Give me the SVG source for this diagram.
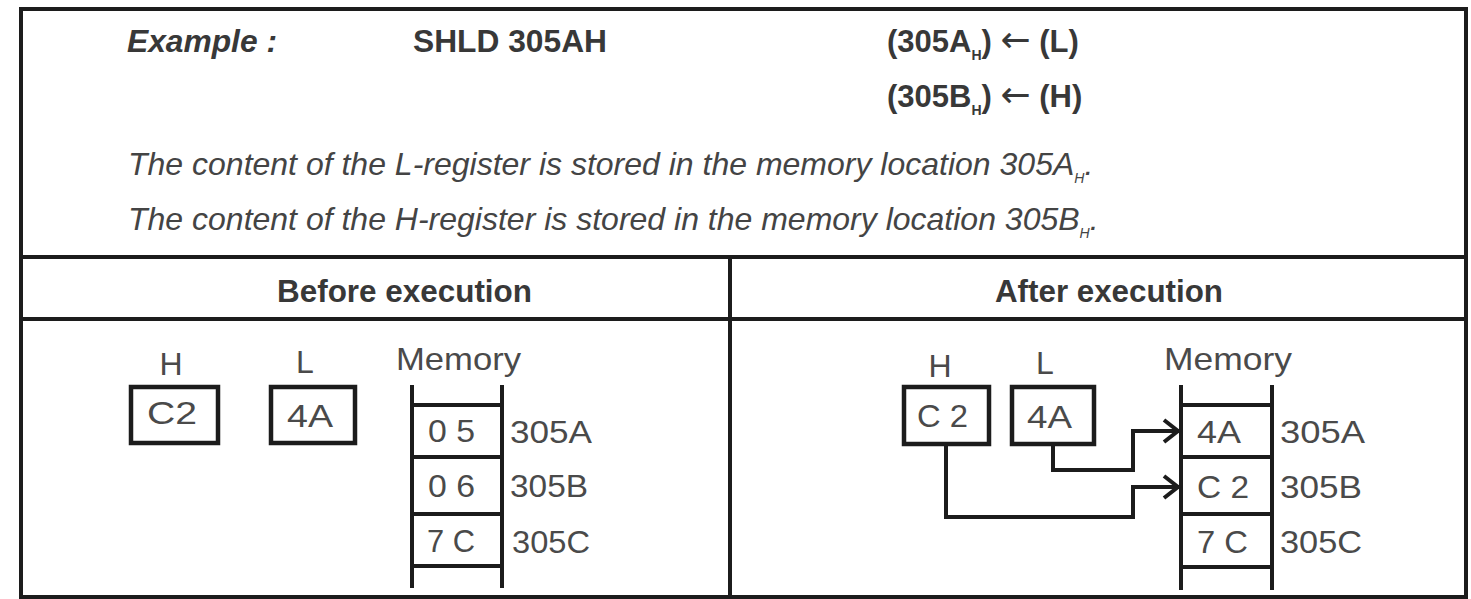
<svg xmlns="http://www.w3.org/2000/svg" width="1471" height="599" viewBox="0 0 1471 599">
<style>
text{font-family:"Liberation Sans",Arial,sans-serif;fill:#383838}
.b{font-weight:bold;font-size:31px}
.bi{font-weight:bold;font-style:italic;font-size:31px}
.it{font-style:italic;font-size:32px;fill:#444}
.r{font-size:32px;fill:#4a4a4a}
.sub{font-size:14px}
.arw{font-family:"DejaVu Sans",sans-serif;font-weight:normal;font-size:36px}
.ln{stroke:#1c1c1c;stroke-width:4;fill:none}
.box{stroke:#1c1c1c;stroke-width:4.5;fill:none}
.conn{stroke:#1c1c1c;stroke-width:4;fill:none;marker-end:url(#arr)}
</style>
<defs>
<marker id="arr" markerUnits="userSpaceOnUse" markerWidth="24" markerHeight="30" refX="18" refY="13" orient="auto">
<path d="M3,2 L17,13 L3,24" fill="none" stroke="#1c1c1c" stroke-width="4"/>
</marker>
</defs>
<rect x="0" y="0" width="1471" height="599" fill="#fff"/>
<g id="frame">
<rect class="ln" x="21" y="9" width="1445" height="588"/>
<line class="ln" x1="21" y1="257" x2="1466" y2="257"/>
<line class="ln" x1="21" y1="319" x2="1466" y2="319"/>
<line class="ln" x1="730" y1="257" x2="730" y2="597"/>
</g>
<g id="header">
<text class="bi" x="127" y="52" textLength="150" lengthAdjust="spacingAndGlyphs">Example :</text>
<text class="b" x="413" y="52" textLength="194" lengthAdjust="spacingAndGlyphs">SHLD 305AH</text>
<text class="b" x="887" y="52">(305A<tspan class="sub" dy="8">H</tspan><tspan dy="-8">) </tspan><tspan class="arw">←</tspan> (L)</text>
<text class="b" x="887" y="107">(305B<tspan class="sub" dy="8">H</tspan><tspan dy="-8">) </tspan><tspan class="arw">←</tspan> (H)</text>
<text class="it" x="128" y="175">The content of the L-register is stored in the memory location 305A<tspan class="sub" dy="8">H</tspan><tspan dy="-8">.</tspan></text>
<text class="it" x="128" y="230">The content of the H-register is stored in the memory location 305B<tspan class="sub" dy="8">H</tspan><tspan dy="-8">.</tspan></text>
<text class="b" x="277" y="302" textLength="255" lengthAdjust="spacingAndGlyphs">Before execution</text>
<text class="b" x="995" y="302" textLength="228" lengthAdjust="spacingAndGlyphs">After execution</text>
</g>
<g id="before-H">
<text class="r" x="171" y="375" text-anchor="middle">H</text>
<rect class="box" x="131" y="387" width="87" height="56"/>
<text class="r" x="147" y="424" textLength="50" lengthAdjust="spacingAndGlyphs">C2</text>
</g>
<g id="before-L">
<text class="r" x="305" y="373" text-anchor="middle">L</text>
<rect class="box" x="271" y="387" width="84" height="56"/>
<text class="r" x="287" y="427" textLength="46" lengthAdjust="spacingAndGlyphs">4A</text>
</g>
<g id="before-memory">
<text class="r" x="396" y="370" textLength="125" lengthAdjust="spacingAndGlyphs">Memory</text>
<line class="ln" x1="412" y1="385" x2="412" y2="588"/>
<line class="ln" x1="502" y1="385" x2="502" y2="588"/>
<line class="ln" x1="412" y1="405" x2="502" y2="405"/>
<line class="ln" x1="412" y1="457" x2="502" y2="457"/>
<line class="ln" x1="412" y1="514" x2="502" y2="514"/>
<line class="ln" x1="412" y1="566" x2="502" y2="566"/>
<text class="r" x="428" y="442" textLength="47" lengthAdjust="spacingAndGlyphs">0 5</text>
<text class="r" x="428" y="497" textLength="47" lengthAdjust="spacingAndGlyphs">0 6</text>
<text class="r" x="427" y="552" textLength="48" lengthAdjust="spacingAndGlyphs">7 C</text>
<text class="r" x="510" y="443" textLength="82" lengthAdjust="spacingAndGlyphs">305A</text>
<text class="r" x="510" y="497" textLength="78" lengthAdjust="spacingAndGlyphs">305B</text>
<text class="r" x="512" y="553" textLength="78" lengthAdjust="spacingAndGlyphs">305C</text>
</g>
<g id="after-H">
<text class="r" x="940" y="377" text-anchor="middle">H</text>
<rect class="box" x="904" y="387" width="85" height="57"/>
<text class="r" x="917" y="427" textLength="51" lengthAdjust="spacingAndGlyphs">C 2</text>
</g>
<g id="after-L">
<text class="r" x="1045" y="374" text-anchor="middle">L</text>
<rect class="box" x="1012" y="387" width="82" height="57"/>
<text class="r" x="1027" y="428" textLength="45" lengthAdjust="spacingAndGlyphs">4A</text>
</g>
<g id="after-memory">
<text class="r" x="1164" y="370" textLength="128" lengthAdjust="spacingAndGlyphs">Memory</text>
<line class="ln" x1="1181" y1="385" x2="1181" y2="590"/>
<line class="ln" x1="1272" y1="385" x2="1272" y2="590"/>
<line class="ln" x1="1181" y1="405" x2="1272" y2="405"/>
<line class="ln" x1="1181" y1="457" x2="1272" y2="457"/>
<line class="ln" x1="1181" y1="514" x2="1272" y2="514"/>
<line class="ln" x1="1181" y1="567" x2="1272" y2="567"/>
<text class="r" x="1197" y="443" textLength="44" lengthAdjust="spacingAndGlyphs">4A</text>
<text class="r" x="1197" y="498" textLength="52" lengthAdjust="spacingAndGlyphs">C 2</text>
<text class="r" x="1197" y="553" textLength="51" lengthAdjust="spacingAndGlyphs">7 C</text>
<text class="r" x="1280" y="443" textLength="85" lengthAdjust="spacingAndGlyphs">305A</text>
<text class="r" x="1280" y="498" textLength="82" lengthAdjust="spacingAndGlyphs">305B</text>
<text class="r" x="1280" y="553" textLength="82" lengthAdjust="spacingAndGlyphs">305C</text>
</g>
<g id="connectors">
<path class="conn" d="M1053,446 V470 H1133 V431 H1179"/>
<path class="conn" d="M946,446 V517 H1133 V487 H1179"/>
</g>
</svg>
